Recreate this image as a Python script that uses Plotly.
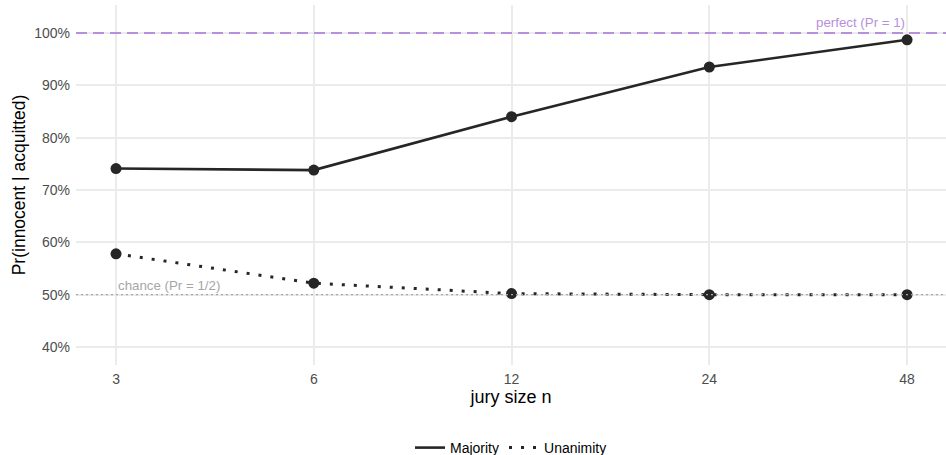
import plotly.graph_objects as go

jury_sizes = [3, 6, 12, 24, 48]
majority = [0.741, 0.738, 0.840, 0.935, 0.987]
unanimity = [0.578, 0.522, 0.502, 0.500, 0.500]
y_ticks = [0.4, 0.5, 0.6, 0.7, 0.8, 0.9, 1.0]
y_tick_labels = ["40%", "50%", "60%", "70%", "80%", "90%", "100%"]
perfect_level = 1.0
chance_level = 0.5

dark = "#262626"
purple = "#B88FDC"
grey_ref = "#A6A6A6"

fig = go.Figure()
fig.add_trace(go.Scatter(x=jury_sizes, y=majority, mode="lines+markers",
                         line=dict(color=dark, width=2.6),
                         marker=dict(color=dark, size=11), showlegend=False))
fig.add_trace(go.Scatter(x=jury_sizes, y=unanimity, mode="lines+markers",
                         line=dict(color=dark, width=3, dash="3px,9px"),
                         marker=dict(color=dark, size=11), showlegend=False))
# legend entries (lines only)
fig.add_trace(go.Scatter(x=[None], y=[None], mode="lines", name="Majority",
                         line=dict(color=dark, width=2.6)))
fig.add_trace(go.Scatter(x=[None], y=[None], mode="lines", name="Unanimity",
                         line=dict(color=dark, width=3, dash="3px,9px")))

fig.add_hline(y=perfect_level, line_color=purple, line_width=2, line_dash="11px,6px")
fig.add_hline(y=chance_level, line_color=grey_ref, line_width=1.2, line_dash="2px,3px")
fig.add_annotation(x=1.6812, xref="x", y=perfect_level, yref="y", text="perfect (Pr = 1)",
                   showarrow=False, xanchor="right", yanchor="bottom",
                   font=dict(color=purple, size=13.3), yshift=1)
fig.add_annotation(x=0.4771, xref="x", y=chance_level, yref="y", text="chance (Pr = 1/2)",
                   showarrow=False, xanchor="left", yanchor="bottom",
                   font=dict(color=grey_ref, size=13.3), yshift=0)

fig.update_layout(
    width=946, height=455, autosize=False,
    margin=dict(l=76, r=0, t=5, b=90),
    paper_bgcolor="white", plot_bgcolor="white",
    font=dict(family="Liberation Sans, Arial, sans-serif", color="#000000"),
    xaxis=dict(type="log", range=[0.4162, 1.7405],
               tickmode="array", tickvals=jury_sizes,
               ticktext=[str(v) for v in jury_sizes],
               showgrid=True, gridcolor="#EBEBEB", gridwidth=1.6,
               zeroline=False, showline=False, ticks="", ticklabelstandoff=4,
               tickfont=dict(size=14, color="#4D4D4D"), automargin=False,
               title=dict(text="jury size n", font=dict(size=18), standoff=3)),
    yaxis=dict(range=[0.3656, 1.0535], tickmode="array", tickvals=y_ticks,
               ticktext=y_tick_labels,
               showgrid=True, gridcolor="#EBEBEB", gridwidth=1.6,
               zeroline=False, showline=False, ticks="", ticklabelstandoff=5,
               tickfont=dict(size=14, color="#4D4D4D"), automargin=False,
               title=dict(text="Pr(innocent | acquitted)", font=dict(size=17.5), standoff=4)),
    legend=dict(orientation="h", x=0.5, xanchor="center", xref="paper",
                y=(455 - 448) / 455, yanchor="middle", yref="container",
                font=dict(size=14), itemwidth=30),
)

fig.write_html("out.html",
               config={"responsive": False, "displayModeBar": False},
               post_script="document.body.style.margin='0';document.body.style.overflow='hidden';")
